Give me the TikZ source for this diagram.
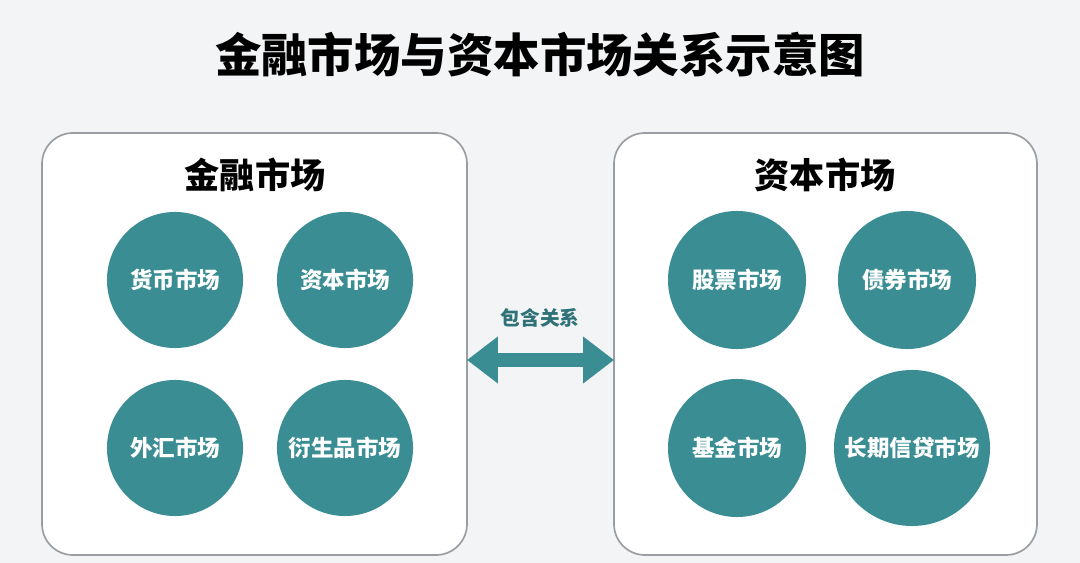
\documentclass[tikz,border=0pt]{standalone}
\usepackage{fontspec}
\setmainfont{Noto Sans CJK SC}
\usetikzlibrary{arrows.meta}
\definecolor{teal1}{HTML}{3A8D93}
\definecolor{bg}{HTML}{F3F4F5}
\definecolor{bd}{HTML}{9A9EA2}
\begin{document}
\begin{tikzpicture}[x=0.025cm,y=-0.025cm,
  panel/.style={draw=bd,line width=1.2pt,fill=white,rounded corners=22pt},
  circ/.style={circle,fill=teal1,text=white,font=\bfseries\fontsize{16}{18}\selectfont,inner sep=0pt},
  head/.style={font=\bfseries\fontsize{25}{28}\selectfont}]
\fill[bg] (0,0) rectangle (1080,563);
\node[font=\bfseries\fontsize{33}{38}\selectfont] (title) at (540,55) {金融市场与资本市场关系示意图};
\draw[panel] (42,133) rectangle (467,555);
\draw[panel] (614,133) rectangle (1037,555);
\coordinate (L) at (467,360);
\coordinate (R) at (614,360);
\node[head] (h1) at (255,175) {金融市场};
\node[head] (h2) at (825,175) {资本市场};
\node[circ,minimum size=3.4cm] (a1) at (175,280) {货币市场};
\node[circ,minimum size=3.4cm] (a2) at (345,280) {资本市场};
\node[circ,minimum size=3.4cm] (a3) at (175,448) {外汇市场};
\node[circ,minimum size=3.4cm] (a4) at (345,448) {衍生品市场};
\node[circ,minimum size=3.45cm] (b1) at (737,280) {股票市场};
\node[circ,minimum size=3.45cm] (b2) at (907,280) {债券市场};
\node[circ,minimum size=3.45cm] (b3) at (737,448) {基金市场};
\node[circ,minimum size=3.9cm] (b4) at (912,448) {长期信贷市场};
\node[font=\bfseries\fontsize{14}{16}\selectfont,text=teal1!80!black] (lab) at (540,318) {包含关系};
\draw[teal1,line width=10pt,{Triangle[length=22pt,width=32pt]}-{Triangle[length=22pt,width=32pt]}] (L) -- (R);
\end{tikzpicture}
\end{document}
